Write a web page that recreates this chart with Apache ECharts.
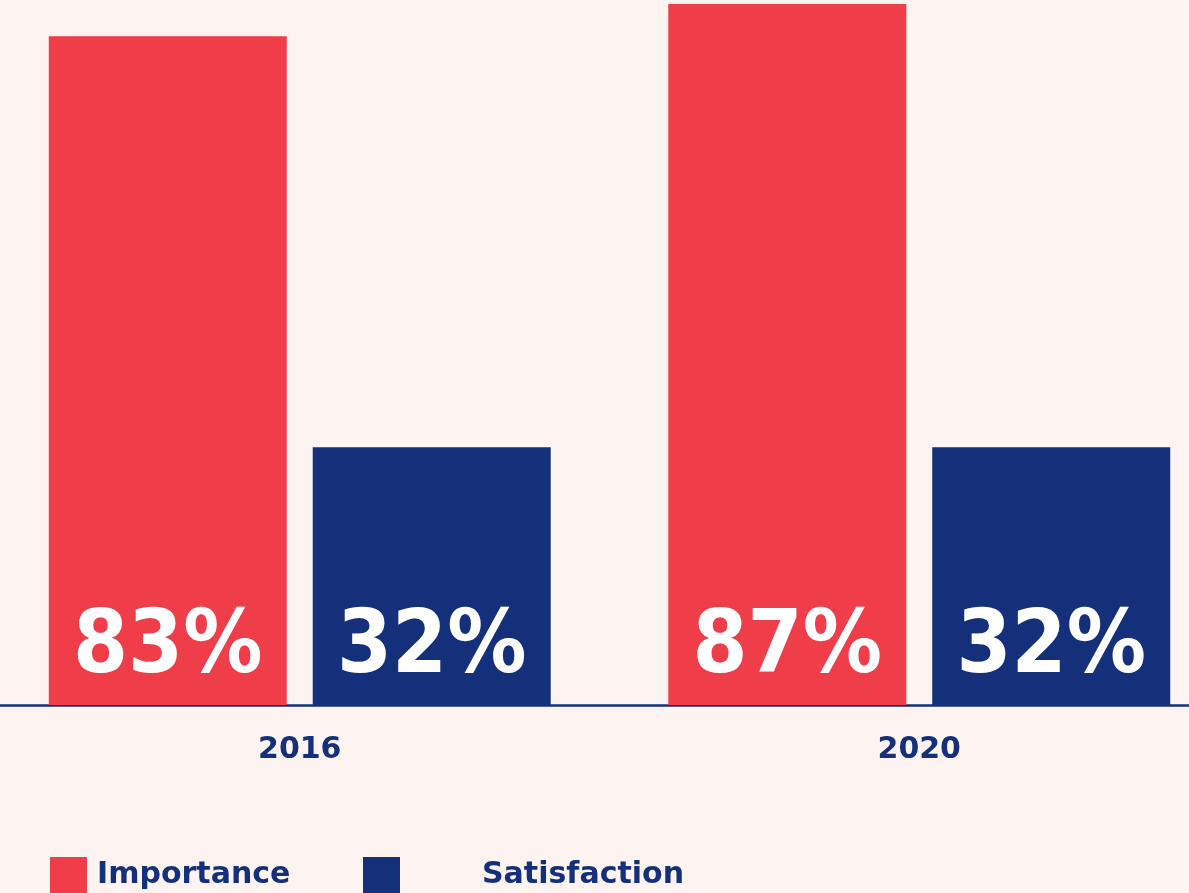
<!DOCTYPE html>
<html>
<head>
<meta charset="utf-8">
<script src="https://cdn.jsdelivr.net/npm/echarts@6/dist/echarts.min.js"></script>
<style>
  html, body { margin: 0; padding: 0; background: #fdf3f1; }
  #chart { width: 1189px; height: 893px; }
</style>
</head>
<body>
<div id="chart"></div>
<script>
const years = ['2016', '2020']
const importance = [83, 87]
const satisfaction = [32, 32]

const red = '#ef3d4a'
const navy = '#14307a'

const chart = echarts.init(document.getElementById('chart'))

const valueLabel = {
  show: true,
  position: 'insideBottom',
  distance: 6,
  formatter: '{c}%',
  color: '#ffffff',
  fontFamily: '"DejaVu Sans Condensed", "DejaVu Sans", sans-serif',
  fontWeight: 'bold',
  fontSize: 88,
  lineHeight: 100
}

const legendText = {
  color: navy,
  fontFamily: '"DejaVu Sans", sans-serif',
  fontWeight: 'bold',
  fontSize: 30
}

chart.setOption({
  backgroundColor: '#fdf3f1',
  animation: false,
  grid: {
    outerBoundsMode: 'none',
    containLabel: false,
    top: 4,
    bottom: 188,
    left: -10,
    right: -40
  },
  legend: [{
    left: 50,
    top: 857,
    padding: 0,
    itemWidth: 37,
    itemHeight: 37,
    icon: 'rect',
    data: ['Importance'],
    textStyle: Object.assign({}, legendText, { padding: [0, 0, 0, 5] })
  }, {
    left: 363,
    top: 857,
    padding: 0,
    itemWidth: 37,
    itemHeight: 37,
    icon: 'rect',
    data: ['Satisfaction'],
    textStyle: Object.assign({}, legendText, { padding: [0, 0, 0, 77] })
  }],
  xAxis: {
    type: 'category',
    data: years,
    axisLine: { lineStyle: { color: navy, width: 2.5 } },
    axisTick: { show: false },
    axisLabel: {
      color: navy,
      fontFamily: '"DejaVu Sans", sans-serif',
      fontWeight: 'bold',
      fontSize: 30,
      margin: 30
    }
  },
  yAxis: {
    type: 'value',
    min: 0,
    max: 87,
    show: false
  },
  series: [{
    name: 'Importance',
    type: 'bar',
    data: importance,
    barWidth: 238,
    barGap: '10.9%',
    itemStyle: { color: red },
    label: valueLabel
  }, {
    name: 'Satisfaction',
    type: 'bar',
    data: satisfaction,
    barWidth: 238,
    itemStyle: { color: navy },
    label: valueLabel
  }]
})
</script>
</body>
</html>
